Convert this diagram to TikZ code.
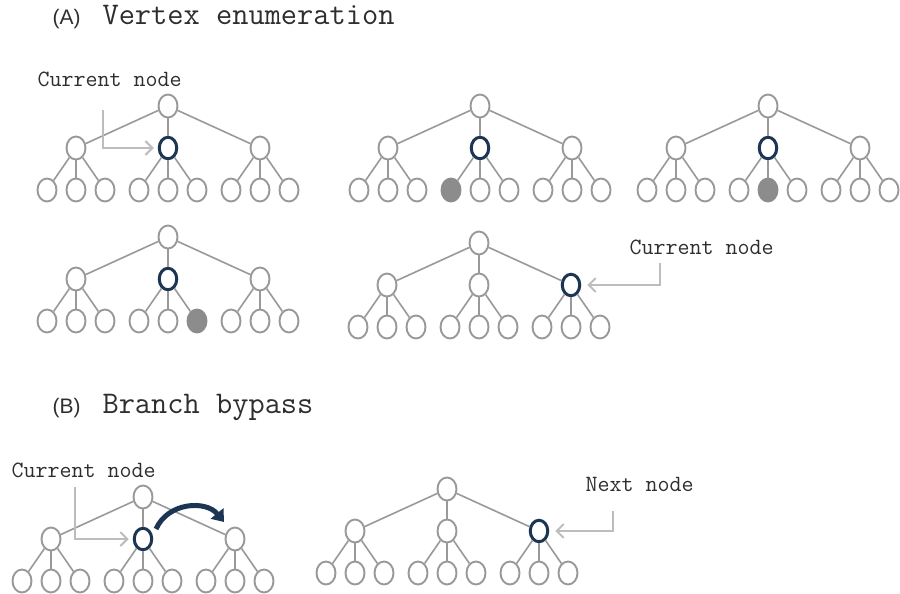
\documentclass[tikz,border=0pt]{standalone}
\usepackage{fontspec}
\setmainfont{Liberation Sans}
\usetikzlibrary{shapes.geometric,arrows.meta}
\definecolor{edgegray}{HTML}{999999}
\definecolor{pointergray}{HTML}{BDBDBD}
\definecolor{navy}{HTML}{1C3552}
\definecolor{leaffill}{HTML}{8C8C8C}
\definecolor{txt}{HTML}{2E2E2E}
\tikzset{
  tn/.style={ellipse,draw=edgegray,line width=1.9pt,fill=white,inner sep=0pt,
             minimum width=19pt,minimum height=23pt},
  cur/.style={draw=navy,line width=3pt,minimum width=17.5pt,minimum height=21.5pt},
  done/.style={fill=leaffill,draw=leaffill},
  edge/.style={draw=edgegray,line width=1.6pt},
  pointer/.style={draw=pointergray,line width=2pt,-{Straight Barb[length=7pt,width=14pt]}},
  jump/.style={draw=navy,line width=5pt,-{Triangle[length=11pt,width=16pt]}},
  title/.style={anchor=base west,text=txt,font=\ttfamily\fontsize{31.5}{33}\selectfont},
  tag/.style={anchor=base west,text=txt,font=\fontsize{21}{23}\selectfont},
  lbl/.style={anchor=base west,text=txt,font=\ttfamily\fontsize{23.3}{25}\selectfont},
}
% three-level tree: #1 name prefix, (#2,#3) root position
\newcommand\ternarytree[3]{%
  \node[tn,hl-#1-r/.try] (#1-r) at (#2,#3) {};
  \foreach \i/\dx in {1/-92,2/0,3/92}{%
    \node[tn,hl-#1-m\i/.try] (#1-m\i) at ({#2+\dx},{#3+42}) {};
    \draw[edge] (#1-r) -- (#1-m\i);
    \foreach \j/\ddx in {1/-29,2/0,3/29}{%
      \node[tn,hl-#1-l\i\j/.try] (#1-l\i\j) at ({#2+\dx+\ddx},{#3+84}) {};
      \draw[edge] (#1-m\i) -- (#1-l\i\j);
    }
  }
}
\tikzset{
  hl-a-m2/.style=cur,
  hl-b-m2/.style=cur, hl-b-l21/.style=done,
  hl-c-m2/.style=cur, hl-c-l22/.style=done,
  hl-d-m2/.style=cur, hl-d-l23/.style=done,
  hl-e-m3/.style=cur,
  hl-f-m2/.style=cur,
  hl-g-m3/.style=cur,
}
\begin{document}
\begin{tikzpicture}[x=1pt,y=-1pt]
\useasboundingbox (0,0) rectangle (900,594);

% section headings
\node[tag] (tagA) at (49,25) {(A)};
\node[title] (headA) at (99,25) {Vertex enumeration};
\node[tag] (tagB) at (49,413) {(B)};
\node[title] (headB) at (99,413) {Branch bypass};

% (A) trees
\ternarytree{a}{168}{106}
\ternarytree{b}{480}{106}
\ternarytree{c}{768}{106}
\ternarytree{d}{168}{237}
\ternarytree{e}{479}{243}

% (B) trees
\ternarytree{f}{143}{497}
\ternarytree{g}{447}{489}

% pointer labels
\node[lbl] (curA) at (34,86) {Current node};
\coordinate (pA) at (103,110);
\draw[pointer] (pA) |- ([xshift=-4pt]a-m2.west);

\node[lbl] (curE) at (626,254) {Current node};
\coordinate (pE) at (660,263);
\draw[pointer] (pE) |- ([xshift=6pt]e-m3.east);

\node[lbl] (curF) at (8,477) {Current node};
\coordinate (pF) at (75,487);
\draw[pointer] (pF) |- ([xshift=-4pt]f-m2.west);

\node[lbl] (nextG) at (582,491) {Next node};
\coordinate (pG) at (613,511);
\draw[pointer] (pG) |- ([xshift=6pt]g-m3.east);

% bypass jump to the next sibling
\coordinate (jA) at (156,529);
\coordinate (jB) at (224,522);
\draw[jump] (jA) .. controls (168,502) and (206,500) .. (jB);
\end{tikzpicture}
\end{document}
